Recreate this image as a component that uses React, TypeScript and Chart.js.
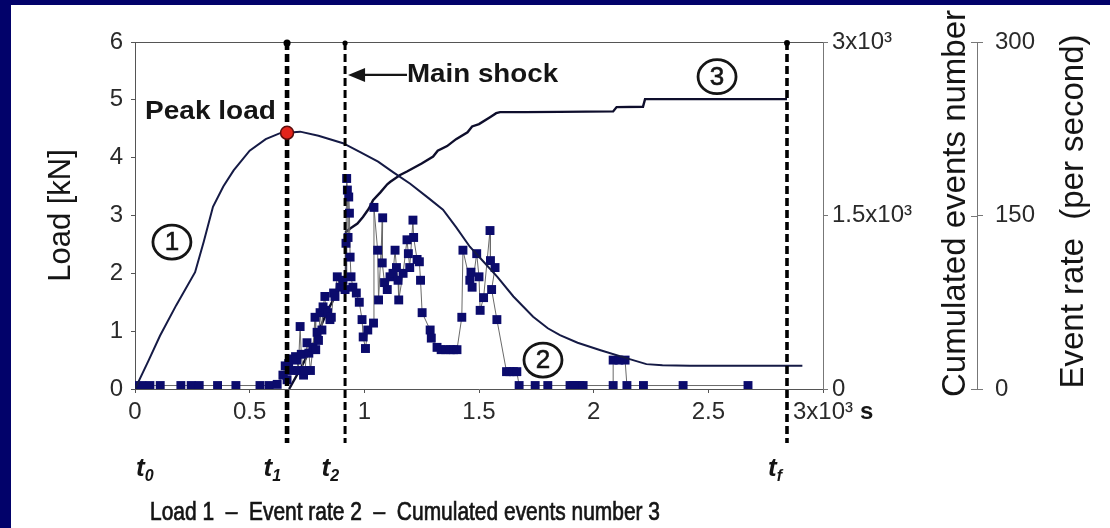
import React, { useEffect, useRef } from 'react';
import { Chart, registerables } from 'chart.js';

Chart.register(...registerables);

// Load curve (time in 10^3 s, load in kN)
const LOAD_T = [0, 0.06, 0.109, 0.18, 0.262, 0.3, 0.34, 0.385, 0.43, 0.5, 0.57, 0.63, 0.663, 0.72, 0.8, 0.907, 0.98, 1.06, 1.125, 1.2, 1.28, 1.343, 1.4, 1.46, 1.52, 1.58, 1.65, 1.736, 1.8, 1.853, 1.93, 2.03, 2.146, 2.23, 2.3, 2.42, 2.91];
const LOAD_KN = [0, 0.5, 0.92, 1.45, 2.02, 2.55, 3.15, 3.5, 3.78, 4.12, 4.32, 4.42, 4.43, 4.45, 4.38, 4.25, 4.1, 3.93, 3.75, 3.55, 3.3, 3.1, 2.8, 2.46, 2.2, 1.94, 1.6, 1.25, 1.05, 0.93, 0.8, 0.67, 0.53, 0.43, 0.41, 0.4, 0.4];

// Acoustic event rate (events per second)
const RATE_T = [
  0, 0.03, 0.065, 0.11, 0.2, 0.245, 0.28, 0.36, 0.44, 0.545, 0.585, 0.62,
  0.645, 0.655, 0.663, 0.67, 0.68, 0.69, 0.7, 0.706, 0.712, 0.72,
  0.725, 0.735, 0.742, 0.75, 0.758, 0.765, 0.776, 0.785, 0.788, 0.794,
  0.8, 0.807, 0.815, 0.82, 0.828, 0.832, 0.84, 0.85, 0.856, 0.866,
  0.872, 0.882, 0.894, 0.907,
  0.916, 0.92, 0.923, 0.926, 0.929, 0.932, 0.935, 0.938, 0.942,
  0.95, 0.965, 0.978, 0.99, 0.995, 1.005, 1.015, 1.04, 1.042, 1.058,
  1.062, 1.08, 1.078, 1.088, 1.1, 1.112, 1.125, 1.134, 1.14, 1.147,
  1.15, 1.169, 1.186, 1.192, 1.198, 1.212, 1.215, 1.23, 1.24, 1.245,
  1.252, 1.287, 1.292, 1.317, 1.335, 1.355, 1.375, 1.39, 1.404, 1.425,
  1.43, 1.46, 1.465, 1.47, 1.49, 1.5, 1.505, 1.52, 1.548, 1.55,
  1.57, 1.555, 1.578, 1.62, 1.635, 1.65, 1.665, 1.675, 1.745, 1.8,
  1.897, 1.91, 1.925, 1.94, 1.954, 2.085, 2.085, 2.11, 2.137, 2.145,
  2.217, 2.39, 2.673,
];
const RATE_PER_S = [
  3, 3, 3, 3, 3, 3, 3, 3, 3, 3, 3, 4,
  12, 20, 8, 22, 16, 26, 28, 25, 16, 54,
  30, 12, 16, 40, 31, 16, 36, 62, 34, 49,
  42, 66, 51, 71, 80, 68, 66, 60, 62, 83,
  80, 97, 88, 94,
  86, 126, 182, 172, 131, 166, 152, 114, 97,
  88, 83, 75, 60, 45, 35, 51, 57, 157, 120,
  77, 148, 109, 92, 86, 97, 100, 120, 105, 94,
  77, 100, 129, 117, 105, 146, 131, 112, 110, 94,
  66, 51, 44, 36, 34, 34, 34, 34, 34, 62,
  120, 94, 101, 88, 117, 97, 68, 79, 137, 111,
  105, 86, 60, 15, 15, 15, 15, 3, 3, 3,
  3, 3, 3, 3, 3, 3, 25, 25, 25, 3,
  3, 3, 3,
];

// Cumulated number of events
const CUM_T = [0.672, 0.72, 0.78, 0.84, 0.9, 0.916, 0.92, 0.94, 0.97, 0.994, 1.02, 1.038, 1.07, 1.1, 1.112, 1.156, 1.186, 1.25, 1.3, 1.32, 1.361, 1.4, 1.45, 1.47, 1.5, 1.548, 1.575, 1.592, 1.7, 1.85, 2.085, 2.1, 2.215, 2.224, 2.843];
const CUM_N = [0, 170, 400, 680, 900, 950, 1360, 1390, 1430, 1487, 1560, 1633, 1700, 1770, 1790, 1850, 1880, 1950, 2010, 2060, 2100, 2160, 2220, 2270, 2290, 2350, 2385, 2394, 2394, 2396, 2400, 2437, 2440, 2506, 2506];

// Peak load and characteristic instants (10^3 s)
const PEAK_T = 0.663;
const PEAK_KN = 4.43;
const T1 = 0.663;
const T2 = 0.916;
const TF = 2.843;

// Tick labels
const X_TICK_LABELS: Record<string, string> = { '0': '0', '0.5': '0.5', '1': '1', '1.5': '1.5', '2': '2', '2.5': '2.5', '3': '3x10³' };
const CUM_TICK_LABELS: Record<string, string> = { '0': '0', '1500': '1.5x10³', '3000': '3x10³' };
const CAPTION = 'Load 1  –  Event rate 2  –  Cumulated events number 3';

const NAVY = '#02026a';
const INK = '#151515';
const FONT = "'Liberation Sans', Arial, sans-serif";
const PEAK_INDEX = 0;

function text(ctx: CanvasRenderingContext2D, s: string, x: number, y: number, font: string, align: CanvasTextAlign, baseline: CanvasTextBaseline, sx = 1, rot = 0, stroke = 0) {
  ctx.save();
  ctx.translate(x, y);
  if (rot) ctx.rotate(rot);
  ctx.scale(sx, 1);
  ctx.font = font;
  ctx.fillStyle = INK;
  ctx.textAlign = align;
  ctx.textBaseline = baseline;
  ctx.fillText(s, 0, 0);
  if (stroke) {
    ctx.strokeStyle = INK;
    ctx.lineWidth = stroke;
    ctx.strokeText(s, 0, 0);
  }
  ctx.restore();
}

function circled(ctx: CanvasRenderingContext2D, n: string, cx: number, cy: number) {
  ctx.save();
  ctx.beginPath();
  ctx.ellipse(cx, cy, 19, 17, 0, 0, Math.PI * 2);
  ctx.lineWidth = 2.8;
  ctx.strokeStyle = INK;
  ctx.stroke();
  ctx.restore();
  text(ctx, n, cx, cy + 1, `26px ${FONT}`, 'center', 'middle', 1, 0, 0.6);
}

function tLabel(ctx: CanvasRenderingContext2D, sub: string, x: number, alignRight: boolean) {
  const main = `italic bold 26px ${FONT}`;
  const small = `italic bold 16px ${FONT}`;
  ctx.save();
  ctx.font = main;
  const w1 = ctx.measureText('t').width;
  ctx.font = small;
  const w2 = ctx.measureText(sub).width;
  ctx.restore();
  const left = alignRight ? x - (w1 + w2) : x;
  text(ctx, 't', left, 476, main, 'left', 'alphabetic');
  text(ctx, sub, left + w1, 481, small, 'left', 'alphabetic');
}

const decor = {
  id: 'decor',
  beforeDraw(chart: any) {
    const { ctx, width, height } = chart;
    ctx.save();
    ctx.fillStyle = NAVY;
    ctx.fillRect(0, 0, width, height);
    ctx.fillStyle = '#ffffff';
    ctx.fillRect(11, 5, width - 11, height - 5);
    ctx.restore();
  },
  beforeDatasetsDraw(chart: any) {
    const { ctx, chartArea } = chart;
    const y3 = chart.scales.y3;
    ctx.save();
    ctx.strokeStyle = '#555';
    ctx.lineWidth = 1;
    // top frame
    ctx.beginPath();
    ctx.moveTo(chartArea.left, chartArea.top + 0.5);
    ctx.lineTo(chartArea.right, chartArea.top + 0.5);
    ctx.stroke();
    // inner half of the event-rate ticks
    ctx.strokeStyle = '#777';
    for (const v of [0, 150, 300]) {
      const py = Math.round(y3.getPixelForValue(v)) + 0.5;
      ctx.beginPath();
      ctx.moveTo(y3.left - 6, py);
      ctx.lineTo(y3.left, py);
      ctx.stroke();
    }
    ctx.restore();
  },
  beforeDatasetDraw(chart: any, args: any) {
    if (args.index !== PEAK_INDEX) return;
    const { ctx, chartArea } = chart;
    const x = chart.scales.x;
    const lines: [number, number][] = [[T1, 4.6], [T2, 3], [TF, 3.6]];
    ctx.save();
    ctx.strokeStyle = '#000';
    for (const [t, w] of lines) {
      const px = x.getPixelForValue(t);
      ctx.lineWidth = w;
      ctx.setLineDash([8, 4]);
      ctx.beginPath();
      ctx.moveTo(px, chartArea.top);
      ctx.lineTo(px, 443);
      ctx.stroke();
      ctx.setLineDash([]);
      ctx.beginPath();
      ctx.arc(px, chartArea.top + 1, w * 0.6 + 0.8, 0, Math.PI * 2);
      ctx.fillStyle = '#000';
      ctx.fill();
    }
    ctx.restore();
  },
  afterDraw(chart: any) {
    const { ctx } = chart;
    const x = chart.scales.x;
    const y = chart.scales.y;
    const y2 = chart.scales.y2;
    const y3 = chart.scales.y3;

    // peak label
    text(ctx, 'Peak load', x.getPixelForValue(0.044), y.getPixelForValue(4.79), `bold 25px ${FONT}`, 'left', 'middle', 1.12);

    // main shock arrow and label
    const ay = y.getPixelForValue(5.43);
    const tip = x.getPixelForValue(T2) + 3;
    const txtX = x.getPixelForValue(1.186);
    ctx.save();
    ctx.strokeStyle = INK;
    ctx.fillStyle = INK;
    ctx.lineWidth = 2.2;
    ctx.beginPath();
    ctx.moveTo(tip + 12, ay);
    ctx.lineTo(txtX, ay);
    ctx.stroke();
    ctx.beginPath();
    ctx.moveTo(tip, ay);
    ctx.lineTo(tip + 17, ay - 7);
    ctx.lineTo(tip + 17, ay + 7);
    ctx.closePath();
    ctx.fill();
    ctx.restore();
    text(ctx, 'Main shock', txtX, ay, `bold 25px ${FONT}`, 'left', 'middle', 1.11);

    // curve numbers
    circled(ctx, '1', x.getPixelForValue(0.161), y.getPixelForValue(2.54));
    circled(ctx, '2', x.getPixelForValue(1.779), y.getPixelForValue(0.5));
    circled(ctx, '3', x.getPixelForValue(2.538), y.getPixelForValue(5.4));

    // unit after the last time tick
    ctx.save();
    ctx.font = `24px ${FONT}`;
    const lw = ctx.measureText(X_TICK_LABELS['3']).width;
    ctx.restore();
    text(ctx, 's', x.getPixelForValue(3) + lw / 2 + 7, x.top + 4 + 5 + 14.4, `bold 24px ${FONT}`, 'left', 'middle');

    // time instants
    tLabel(ctx, '0', x.getPixelForValue(0) + 1, false);
    tLabel(ctx, '1', x.getPixelForValue(T1) - 6, true);
    tLabel(ctx, '2', x.getPixelForValue(T2) - 6, true);
    tLabel(ctx, 'f', x.getPixelForValue(TF) - 5, true);

    // right axis titles
    const midY = (y2.top + y2.bottom) / 2;
    text(ctx, 'Cumulated events number', y2.left + 142, midY - 12, `33px ${FONT}`, 'center', 'alphabetic', 1, -Math.PI / 2);
    text(ctx, 'Event rate  (per second)', y3.left + 106, midY - 4, `33px ${FONT}`, 'center', 'alphabetic', 1, -Math.PI / 2);

    // caption
    ctx.save();
    ctx.font = `25px ${FONT}`;
    const cw = ctx.measureText(CAPTION).width;
    ctx.restore();
    text(ctx, CAPTION, 150, 513, `25px ${FONT}`, 'left', 'middle', 510 / cw, 0, 0.7);
  },
};

const tickFont = { family: FONT, size: 24 };

function buildConfig(): any {
  const load = LOAD_T.map((t, i) => ({ x: t, y: LOAD_KN[i] }));
  const rate = RATE_T.map((t, i) => ({ x: t, y: RATE_PER_S[i] }));
  const cum = CUM_T.map((t, i) => ({ x: t, y: CUM_N[i] }));
  return {
    type: 'scatter',
    data: {
      datasets: [
        {
          label: 'Peak load',
          data: [{ x: PEAK_T, y: PEAK_KN }],
          yAxisID: 'y',
          pointRadius: 6.5,
          pointBackgroundColor: '#e3241b',
          pointBorderColor: '#5a0d0d',
          pointBorderWidth: 1.5,
          order: 0,
        },
        {
          label: 'Load',
          data: load,
          yAxisID: 'y',
          showLine: true,
          borderColor: '#151a45',
          borderWidth: 2,
          pointRadius: 0,
          order: 1,
        },
        {
          label: 'Cumulated events number',
          data: cum,
          yAxisID: 'y2',
          showLine: true,
          borderColor: '#0e0e2c',
          borderWidth: 2.4,
          pointRadius: 0,
          order: 4,
        },
        {
          label: 'Event rate',
          data: rate,
          yAxisID: 'y3',
          showLine: true,
          borderColor: '#6a6a6a',
          borderWidth: 1,
          pointStyle: 'rect',
          pointRadius: 6.3,
          pointBackgroundColor: '#0b0b6c',
          pointBorderColor: '#0b0b6c',
          pointBorderWidth: 0,
          order: 3,
        },
      ],
    },
    options: {
      responsive: false,
      animation: false,
      events: [],
      layout: { padding: { left: 0, right: 0, top: 42, bottom: 0 } },
      plugins: { legend: { display: false }, tooltip: { enabled: false } },
      scales: {
        x: {
          type: 'linear',
          position: 'bottom',
          min: 0,
          max: 3,
          afterFit: (s: any) => { s.height = 139; },
          border: { display: true, color: '#555', width: 1 },
          grid: { drawOnChartArea: false, drawTicks: true, tickLength: 4, color: '#555' },
          ticks: {
            stepSize: 0.5,
            padding: 5,
            maxRotation: 0,
            autoSkip: false,
            font: tickFont,
            color: '#2a2a2a',
            callback: (v: number) => X_TICK_LABELS[String(v)] ?? '',
          },
        },
        y: {
          type: 'linear',
          position: 'left',
          min: 0,
          max: 6,
          afterFit: (s: any) => { s.width = 135; },
          border: { display: true, color: '#555', width: 1 },
          grid: { drawOnChartArea: false, tickLength: 4, color: '#555' },
          ticks: { stepSize: 1, padding: 8, font: tickFont, color: '#2a2a2a' },
          title: {
            display: true,
            text: 'Load [kN]',
            color: INK,
            font: { family: FONT, size: 31 },
            padding: { top: 43, bottom: 0 },
          },
        },
        y2: {
          type: 'linear',
          position: 'right',
          weight: 0,
          min: 0,
          max: 3000,
          afterFit: (s: any) => { s.width = 154; },
          border: { display: true, color: '#777', width: 1 },
          grid: { drawOnChartArea: false, tickLength: 5, color: '#777' },
          ticks: {
            stepSize: 1500,
            padding: 4,
            font: tickFont,
            color: '#2a2a2a',
            callback: (v: number) => CUM_TICK_LABELS[String(v)] ?? '',
          },
        },
        y3: {
          type: 'linear',
          position: 'right',
          weight: 1,
          min: 0,
          max: 300,
          afterFit: (s: any) => { s.width = 133; },
          border: { display: true, color: '#777', width: 1 },
          grid: { drawOnChartArea: false, tickLength: 6, color: '#777' },
          ticks: { stepSize: 150, padding: 12, font: tickFont, color: '#2a2a2a' },
        },
      },
    },
    plugins: [decor],
  };
}

export default function App() {
  const ref = useRef<HTMLCanvasElement>(null);
  useEffect(() => {
    const chart = new Chart(ref.current as HTMLCanvasElement, buildConfig());
    return () => chart.destroy();
  }, []);
  return (
    <div style={{ position: 'fixed', left: 0, top: 0, width: 1110, height: 528 }}>
      <canvas ref={ref} width={1110} height={528} style={{ display: 'block', width: 1110, height: 528 }} />
    </div>
  );
}
